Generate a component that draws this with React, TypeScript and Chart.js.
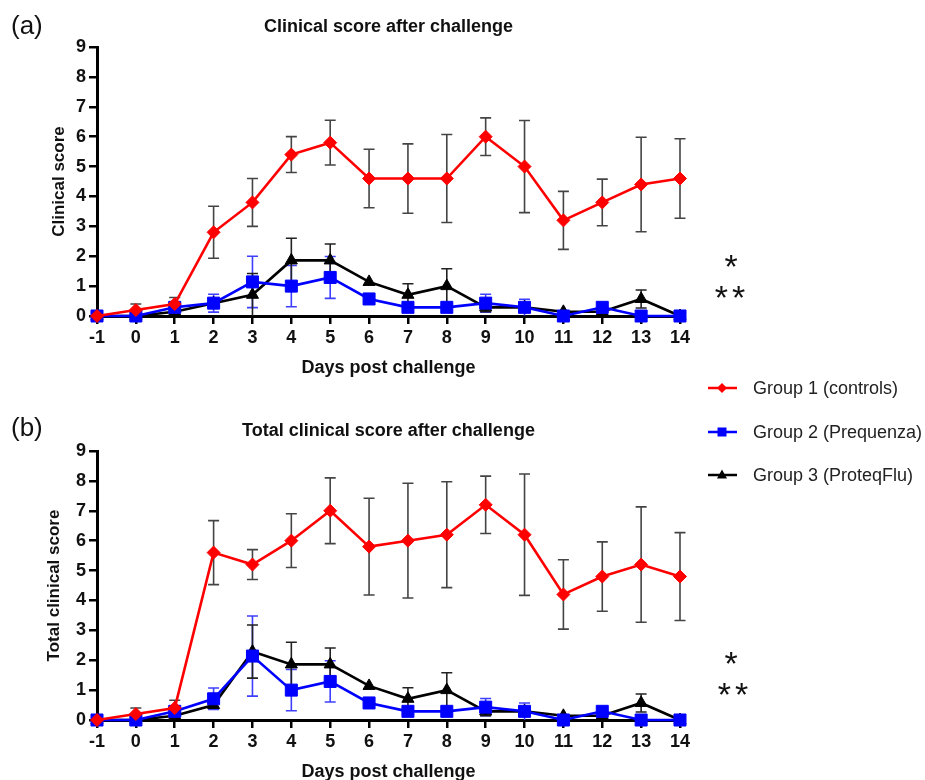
import React, { useEffect, useRef } from "react";
import { Chart, registerables } from "chart.js";

Chart.register(...registerables);

const FONT = "'Liberation Sans', Arial, Helvetica, sans-serif";

// Days post challenge
const days = [-1, 0, 1, 2, 3, 4, 5, 6, 7, 8, 9, 10, 11, 12, 13, 14];
const xTicksMin = -1;
const xTicksMax = 14;
const yTicksMax = 9;

const seriesNames = ["Group 1 (controls)", "Group 2 (Prequenza)", "Group 3 (ProteqFlu)"];

// (a) Clinical score after challenge
const clinicalG1 = [0, 0.2, 0.4, 2.8, 3.8, 5.4, 5.8, 4.6, 4.6, 4.6, 6.0, 5.0, 3.2, 3.8, 4.4, 4.6];
const clinicalG1Err = [0, 0.2, 0.22, 0.87, 0.8, 0.6, 0.75, 0.98, 1.16, 1.47, 0.63, 1.54, 0.97, 0.78, 1.58, 1.33];
const clinicalG2 = [0, 0, 0.29, 0.43, 1.14, 1.0, 1.29, 0.57, 0.29, 0.29, 0.43, 0.29, 0, 0.29, 0, 0];
const clinicalG2Err = [0, 0, 0, 0.3, 0.86, 0.69, 0.7, 0, 0, 0, 0.3, 0.27, 0, 0, 0, 0];
const clinicalG3 = [0, 0, 0.14, 0.43, 0.71, 1.86, 1.86, 1.14, 0.71, 1.0, 0.29, 0.29, 0.14, 0.14, 0.57, 0];
const clinicalG3Err = [0, 0, 0, 0, 0.71, 0.74, 0.55, 0, 0.37, 0.58, 0.15, 0, 0, 0, 0.3, 0];

// (b) Total clinical score after challenge
const totalG1 = [0, 0.2, 0.4, 5.6, 5.2, 6.0, 7.0, 5.8, 6.0, 6.2, 7.2, 6.2, 4.2, 4.8, 5.2, 4.8];
const totalG1Err = [0, 0.2, 0.26, 1.07, 0.5, 0.9, 1.1, 1.62, 1.92, 1.77, 0.96, 2.03, 1.16, 1.16, 1.93, 1.47];
const totalG2 = [0, 0, 0.29, 0.71, 2.14, 1.0, 1.29, 0.57, 0.29, 0.29, 0.43, 0.29, 0, 0.29, 0, 0];
const totalG2Err = [0, 0, 0, 0.36, 1.34, 0.69, 0.69, 0, 0, 0, 0.29, 0.28, 0, 0, 0, 0];
const totalG3 = [0, 0, 0.14, 0.5, 2.29, 1.86, 1.86, 1.14, 0.71, 1.0, 0.29, 0.29, 0.14, 0.14, 0.57, 0];
const totalG3Err = [0, 0, 0, 0, 0.89, 0.74, 0.55, 0, 0.37, 0.58, 0.15, 0, 0, 0, 0.3, 0];

const RED = "#ff0000";
const BLUE = "#0000ff";
const BLACK = "#000000";

const errorBarsPlugin = {
  id: "errorBars",
  beforeDatasetsDraw(chart: any) {
    const { ctx } = chart;
    const xs = chart.scales.x;
    const ys = chart.scales.y;
    const cap = 5.5;
    chart.data.datasets.forEach((ds: any, i: number) => {
      const meta = chart.getDatasetMeta(i);
      if (meta.hidden || !ds.errors) return;
      ctx.save();
      ctx.strokeStyle = ds.errorColor;
      ctx.lineWidth = 1.6;
      ds.data.forEach((pt: any, j: number) => {
        const e = ds.errors[j];
        if (!e) return;
        const px = xs.getPixelForValue(pt.x);
        const lowVal = pt.y - e;
        const yTop = ys.getPixelForValue(pt.y + e);
        const yBot = ys.getPixelForValue(Math.max(0, lowVal));
        ctx.beginPath();
        ctx.moveTo(px, yTop);
        ctx.lineTo(px, yBot);
        ctx.moveTo(px - cap, yTop);
        ctx.lineTo(px + cap, yTop);
        if (lowVal > 0.02) {
          ctx.moveTo(px - cap, yBot);
          ctx.lineTo(px + cap, yBot);
        }
        ctx.stroke();
      });
      ctx.restore();
    });
  },
};

function toPoints(vals: number[]) {
  return days.map((d, i) => ({ x: d, y: vals[i] }));
}

function makeDataset(label: string, vals: number[], errs: number[], color: string, errColor: string, style: string, radius: number) {
  return {
    label,
    data: toPoints(vals),
    errors: errs,
    errorColor: errColor,
    borderColor: color,
    backgroundColor: color,
    borderWidth: 2.6,
    pointStyle: style,
    pointRadius: radius,
    pointHoverRadius: radius,
    pointBorderWidth: 1,
    pointBorderColor: color,
    pointBackgroundColor: color,
    tension: 0,
    clip: false,
  };
}

function makeConfig(title: string, yTitle: string, yTitlePad: number, g1: number[], g1e: number[], g2: number[], g2e: number[], g3: number[], g3e: number[]): any {
  const tickFont = { family: FONT, size: 18, weight: "bold" as const };
  return {
    type: "line",
    data: {
      datasets: [
        makeDataset(seriesNames[0], g1, g1e, RED, "#444444", "rectRot", 6.5),
        makeDataset(seriesNames[1], g2, g2e, BLUE, "#3f3fff", "rect", 8.5),
        makeDataset(seriesNames[2], g3, g3e, BLACK, "#222222", "triangle", 7),
      ],
    },
    options: {
      responsive: false,
      animation: false,
      layout: { padding: { left: 40, top: 0, right: 0, bottom: 0 } },
      plugins: {
        legend: { display: false },
        tooltip: { enabled: false },
        title: {
          display: true,
          text: title,
          fullSize: false,
          color: "#111",
          font: { family: FONT, size: 18, weight: "bold" },
          padding: { top: 16.2, bottom: 9.2 },
        },
      },
      scales: {
        x: {
          type: "linear",
          min: xTicksMin,
          max: xTicksMax,
          afterFit: (s: any) => {
            s.height = 74;
          },
          ticks: { stepSize: 1, color: "#111", font: tickFont, padding: 3, maxRotation: 0, autoSkip: false },
          grid: { display: true, drawOnChartArea: false, drawTicks: true, tickLength: 8, color: "#000", lineWidth: 2.5 },
          border: { display: true, color: "#000", width: 3 },
          title: {
            display: true,
            text: "Days post challenge",
            color: "#111",
            font: { family: FONT, size: 18, weight: "bold" },
            padding: { top: 0, bottom: 11.2 },
          },
        },
        y: {
          type: "linear",
          min: 0,
          max: yTicksMax,
          afterFit: (s: any) => {
            s.width = 57;
          },
          ticks: { stepSize: 1, color: "#111", font: tickFont, padding: 3 },
          grid: { display: true, drawOnChartArea: false, drawTicks: true, tickLength: 8, color: "#000", lineWidth: 2.5 },
          border: { display: true, color: "#000", width: 3 },
          title: {
            display: true,
            text: yTitle,
            color: "#111",
            font: { family: FONT, size: 17, weight: "bold" },
            padding: { top: yTitlePad, bottom: 0 },
          },
        },
        yRight: {
          type: "linear",
          position: "right",
          display: true,
          afterFit: (s: any) => {
            s.width = 20;
          },
          ticks: { display: false },
          grid: { display: false },
          border: { display: false },
        },
      },
    },
    plugins: [errorBarsPlugin],
  };
}

const legendRows = [
  { name: seriesNames[0], color: RED, shape: "diamond", cy: 388 },
  { name: seriesNames[1], color: BLUE, shape: "square", cy: 432 },
  { name: seriesNames[2], color: BLACK, shape: "triangle", cy: 475 },
];

function Marker({ shape, color, cy }: { shape: string; color: string; cy: number }) {
  const cx = 722;
  if (shape === "diamond") {
    return <polygon points={`${cx},${cy - 5} ${cx + 5},${cy} ${cx},${cy + 5} ${cx - 5},${cy}`} fill={color} />;
  }
  if (shape === "square") {
    return <rect x={cx - 4.5} y={cy - 4.5} width={9} height={9} fill={color} />;
  }
  return <polygon points={`${cx},${cy - 5.5} ${cx + 5},${cy + 3.5} ${cx - 5},${cy + 3.5}`} fill={color} />;
}

export default function App() {
  const refA = useRef<HTMLCanvasElement>(null);
  const refB = useRef<HTMLCanvasElement>(null);

  useEffect(() => {
    Chart.defaults.font.family = FONT;
    const a = new Chart(
      refA.current as HTMLCanvasElement,
      makeConfig("Clinical score after challenge", "Clinical score", 8.8, clinicalG1, clinicalG1Err, clinicalG2, clinicalG2Err, clinicalG3, clinicalG3Err)
    );
    const b = new Chart(
      refB.current as HTMLCanvasElement,
      makeConfig("Total clinical score after challenge", "Total clinical score", 3.8, totalG1, totalG1Err, totalG2, totalG2Err, totalG3, totalG3Err)
    );
    return () => {
      a.destroy();
      b.destroy();
    };
  }, []);

  const star: React.CSSProperties = {
    position: "absolute",
    fontFamily: FONT,
    fontSize: 34,
    lineHeight: 1,
    color: "#111",
    whiteSpace: "nowrap",
    transform: "translateX(-50%)",
  };
  const starOff = 12;

  return (
    <div style={{ position: "absolute", left: 0, top: 0, width: 925, height: 780, overflow: "hidden", background: "#fff" }}>
      <canvas ref={refA} width={700} height={390} style={{ position: "absolute", left: 0, top: 0, width: 700, height: 390 }} />
      <canvas ref={refB} width={700} height={390} style={{ position: "absolute", left: 0, top: 404, width: 700, height: 390 }} />

      <div style={{ position: "absolute", left: 11, top: 11.5, fontFamily: FONT, fontSize: 26, lineHeight: 1, color: "#111" }}>(a)</div>
      <div style={{ position: "absolute", left: 11, top: 414, fontFamily: FONT, fontSize: 26, lineHeight: 1, color: "#111" }}>(b)</div>

      <svg width={925} height={780} style={{ position: "absolute", left: 0, top: 0, pointerEvents: "none" }}>
        {legendRows.map((r) => (
          <g key={r.name}>
            <line x1={708} x2={737} y1={r.cy} y2={r.cy} stroke={r.color} strokeWidth={2.5} />
            <Marker shape={r.shape} color={r.color} cy={r.cy} />
          </g>
        ))}
      </svg>
      {legendRows.map((r) => (
        <div
          key={r.name + "t"}
          style={{ position: "absolute", left: 753, top: r.cy - 10.5, height: 20, lineHeight: "20px", fontFamily: FONT, fontSize: 18, color: "#222", whiteSpace: "nowrap" }}
        >
          {r.name}
        </div>
      ))}

      <div style={{ ...star, left: 731, top: 261 - starOff }}>*</div>
      <div style={{ ...star, left: 732, top: 292 - starOff, letterSpacing: 4 }}>**</div>
      <div style={{ ...star, left: 731, top: 658 - starOff }}>*</div>
      <div style={{ ...star, left: 735, top: 689 - starOff, letterSpacing: 4 }}>**</div>
    </div>
  );
}
